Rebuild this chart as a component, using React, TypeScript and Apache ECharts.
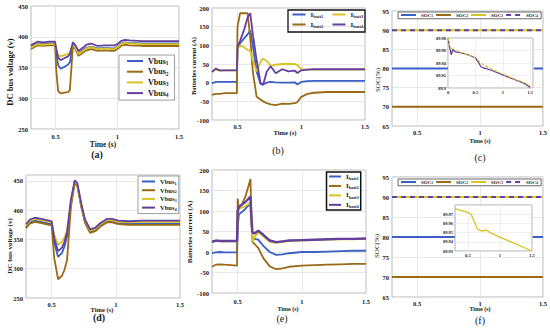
import React, { useEffect, useRef } from 'react';
import * as echarts from 'echarts';

// ---------- data ----------
const X_TICKS = [0.5, 1, 1.5];

// (a) DC bus voltage, case 1
const T_A = [0.3, 0.35, 0.4, 0.45, 0.495, 0.505, 0.52, 0.54, 0.57, 0.6, 0.615, 0.64, 0.66, 0.685, 0.72, 0.75, 0.79, 0.84, 0.9, 0.95, 0.975, 1.0, 1.03, 1.06, 1.1, 1.2, 1.3, 1.4, 1.5];
const VBUS1_A = [383, 389, 388, 389, 389, 372, 354, 348, 351, 355, 358, 388, 383, 373, 378, 382, 384, 381, 382, 381, 381, 384, 389, 391, 390, 389, 389, 389, 389];
const VBUS2_A = [380, 386, 385, 386, 386, 345, 312, 308, 309, 310, 313, 385, 380, 369, 374, 378, 380, 377, 378, 377, 377, 380, 385, 387, 386, 385, 385, 385, 385];
const VBUS3_A = [382, 388, 387, 388, 388, 378, 370, 368, 370, 372, 374, 387, 382, 372, 377, 381, 383, 380, 381, 380, 380, 383, 388, 390, 389, 388, 388, 388, 388];
const VBUS4_A = [386, 392, 391, 392, 392, 380, 366, 362, 365, 368, 372, 391, 386, 377, 382, 387, 389, 385, 386, 386, 386, 388, 393, 395, 394, 393, 393, 393, 393];

// (b) battery currents, case 1
const T_B = [0.3, 0.33, 0.36, 0.4, 0.45, 0.495, 0.5, 0.52, 0.55, 0.58, 0.6, 0.62, 0.65, 0.68, 0.7, 0.73, 0.76, 0.8, 0.85, 0.9, 0.95, 0.97, 1.0, 1.05, 1.1, 1.2, 1.3, 1.4, 1.5];
const IBATT1_B = [-2, 2, 2, 2, 2, 2, 90, 105, 118, 130, 140, 100, 30, -3, -5, 0, 2, 1, 0, 0, 1, -5, 2, 4, 5, 5, 5, 5, 5];
const IBATT2_B = [-33, -30, -30, -28, -28, -28, 150, 186, 186, 186, 120, 30, -38, -45, -50, -55, -58, -60, -56, -57, -55, -52, -38, -30, -27, -25, -25, -25, -25];
const IBATT3_B = [30, 35, 32, 33, 33, 33, 90, 100, 95, 88, 85, 60, 30, 55, 65, 58, 45, 48, 50, 50, 50, 47, 36, 35, 35, 35, 35, 35, 35];
const IBATT4_B = [28, 38, 33, 33, 33, 33, 95, 112, 140, 175, 186, 130, 60, 0, -6, 30, 44, 25, 36, 30, 32, 26, 33, 35, 36, 36, 36, 36, 36];

// (c) SOC, case 1
const T_C = [0.3, 1.5];
const SOC1_C = [80, 80];
const SOC2_C = [70, 70];
const SOC3_C = [90, 90];
const SOC4_C = [90, 90];
// (c) inset
const T_CI = [0, 0.03, 0.06, 0.09, 0.13, 0.2, 0.3, 0.4, 0.5, 0.55, 0.6, 0.65, 0.7, 0.8, 1.0, 1.2, 1.4, 1.5];
const SOC4_CI = [89.98, 89.965, 89.953, 89.962, 89.958, 89.957, 89.955, 89.952, 89.948, 89.942, 89.934, 89.932, 89.931, 89.928, 89.921, 89.914, 89.907, 89.901];
const SOC3_CI = [89.98, 89.968, 89.963, 89.962, 89.96, 89.958, 89.955, 89.952, 89.948, 89.944, 89.94, 89.937, 89.935, 89.93, 89.922, 89.915, 89.908, 89.903];

// (d) DC bus voltage, case 2
const T_D = [0.3, 0.33, 0.37, 0.42, 0.48, 0.5, 0.52, 0.55, 0.58, 0.6, 0.62, 0.65, 0.68, 0.7, 0.73, 0.76, 0.8, 0.84, 0.88, 0.93, 0.97, 1.02, 1.1, 1.2, 1.3, 1.4, 1.5];
const VBUS1_D = [371, 379, 382, 380, 377, 376, 345, 320, 327, 338, 356, 412, 448, 443, 408, 380, 363, 366, 374, 381, 381, 378, 377, 377, 377, 377, 377];
const VBUS2_D = [369, 377, 380, 378, 375, 374, 318, 282, 288, 298, 315, 405, 446, 441, 406, 378, 361, 364, 372, 379, 379, 376, 375, 375, 375, 375, 375];
const VBUS3_D = [374, 382, 385, 383, 380, 379, 358, 341, 346, 353, 366, 415, 449, 444, 410, 382, 365, 368, 376, 383, 383, 380, 379, 380, 380, 380, 380];
const VBUS4_D = [376, 384, 387, 385, 382, 381, 352, 330, 336, 346, 362, 418, 451, 446, 412, 384, 367, 370, 378, 385, 385, 382, 381, 382, 382, 382, 382];

// (e) battery currents, case 2
const T_E = [0.3, 0.33, 0.36, 0.4, 0.45, 0.495, 0.5, 0.51, 0.53, 0.56, 0.6, 0.605, 0.615, 0.63, 0.66, 0.7, 0.75, 0.8, 0.85, 0.9, 1.0, 1.1, 1.2, 1.3, 1.4, 1.5];
const IBATT1_E = [-3, -1, 0, -1, -1, -1, 60, 92, 97, 105, 120, 80, 35, 32, 30, 15, 0, -7, -6, -3, 0, 0, 1, 2, 3, 3];
const IBATT2_E = [-36, -31, -30, -31, -32, -33, 130, 105, 115, 135, 178, 110, 25, 20, 10, -15, -35, -42, -40, -36, -33, -32, -31, -30, -29, -29];
const IBATT3_E = [24, 27, 26, 26, 26, 26, 90, 105, 108, 112, 120, 80, 25, 35, 48, 38, 25, 22, 25, 27, 28, 29, 30, 31, 31, 32];
const IBATT4_E = [25, 28, 27, 27, 27, 27, 100, 110, 115, 122, 135, 95, 48, 45, 52, 42, 28, 24, 26, 28, 29, 30, 31, 32, 32, 33];

// (f) SOC, case 2
const T_F = [0.3, 1.5];
const SOC1_F = [80, 80];
const SOC2_F = [70, 70];
const SOC3_F = [90, 90];
const SOC4_F = [90, 90];
// (f) inset
const T_FI = [0.3, 0.4, 0.5, 0.55, 0.6, 0.65, 0.7, 0.75, 0.78, 0.85, 1.0, 1.2, 1.4, 1.5];
const SOC_FI = [89.976, 89.974, 89.972, 89.97, 89.962, 89.954, 89.952, 89.952, 89.953, 89.95, 89.945, 89.939, 89.933, 89.93];

// ---------- styles ----------
const FONT = "'Liberation Serif', 'Times New Roman', serif";
const BLUE = '#3b5fc4';
const BROWN = '#9a6a16';
const YELLOW = '#d8c424';
const PURPLE = '#62409e';
const TXT = '#1a1a1a';

const pairs = (t: number[], v: number[]) => t.map((x, i) => [x, v[i]]);

function line(name: string, idx: number, t: number[], v: number[], color: string, width = 1.8, extra: any = {}) {
  return {
    type: 'line',
    name,
    xAxisIndex: idx,
    yAxisIndex: idx,
    data: pairs(t, v),
    symbol: 'none',
    showSymbol: false,
    lineStyle: { color, width, ...(extra.lineStyle || {}) },
    itemStyle: { color },
    z: extra.z ?? 2,
    silent: true,
  };
}

function legendFormatter(name: string) {
  const base = name.split('-')[1];
  const m = base.match(/^(Vbus|I|SOC)(.*)$/);
  if (!m) return base;
  return `{m|${m[1]}}{s|${m[2]}}`;
}

function rich(mSize: number, sSize: number, lh: number) {
  return {
    m: { fontSize: mSize, fontWeight: 'bold', fontFamily: FONT, color: TXT, lineHeight: lh },
    s: { fontSize: sSize, fontWeight: 'bold', fontFamily: FONT, color: TXT, lineHeight: sSize, verticalAlign: 'bottom' },
  };
}

function mainX(idx: number, margin: number) {
  return {
    type: 'value', gridIndex: idx, min: 0.3, max: 1.5,
    axisLine: { show: false },
    axisTick: { show: false, customValues: X_TICKS },
    axisLabel: { customValues: X_TICKS, fontSize: 6.5, fontWeight: 'bold', fontFamily: FONT, color: TXT, margin },
    splitLine: { show: true, lineStyle: { color: '#e2e2e2', width: 0.8 } },
  };
}

function mainY(idx: number, min: number, max: number, interval: number, extra: any = {}) {
  return {
    type: 'value', gridIndex: idx, min, max, interval,
    axisLine: { show: false },
    axisTick: { show: false },
    axisLabel: { fontSize: 6.5, fontWeight: 'bold', fontFamily: FONT, color: TXT, margin: 3, ...(extra.axisLabel || {}) },
    splitLine: { show: true, lineStyle: { color: '#e2e2e2', width: 0.8 } },
  };
}

function txt(text: string, x: number, y: number, size: number, bold: boolean, rotate = false) {
  return {
    type: 'text', x, y, rotation: rotate ? Math.PI / 2 : 0, silent: true,
    style: {
      text, fontSize: size, fontWeight: bold ? 'bold' : 'normal', fontFamily: FONT, fill: TXT,
      align: 'center', verticalAlign: 'middle', textAlign: 'center', textVerticalAlign: 'middle',
    },
  };
}

export default function App() {
  const ref = useRef<HTMLDivElement>(null);
  useEffect(() => {
    if (!ref.current) return;
    const chart = echarts.init(ref.current, null, { renderer: 'svg' });

    const gridBase = { show: true, borderColor: '#a8a8a8', borderWidth: 0.8, backgroundColor: '#fff', containLabel: false };
    const grids = [
      { ...gridBase, left: 31, top: 6, width: 148, height: 123 },
      { ...gridBase, left: 212, top: 8, width: 153, height: 112 },
      { ...gridBase, left: 392, top: 11, width: 153, height: 115 },
      { ...gridBase, left: 26, top: 175, width: 154, height: 123 },
      { ...gridBase, left: 212, top: 170, width: 154, height: 123 },
      { ...gridBase, left: 392, top: 177, width: 152, height: 120 },
      { ...gridBase, left: 448, top: 38, width: 85, height: 50, z: 3, borderColor: '#999' },
      { ...gridBase, left: 455, top: 205, width: 77, height: 46, z: 3, borderColor: '#999' },
    ];

    const insetLabel = { fontSize: 4.5, fontWeight: 'bold', fontFamily: FONT, color: TXT, margin: 2 };
    const xAxes: any[] = [
      mainX(0, 4), mainX(1, 3), mainX(2, 3), mainX(3, 3), mainX(4, 5), mainX(5, 3),
      {
        type: 'value', gridIndex: 6, min: 0, max: 1.55, interval: 0.5, z: 4,
        axisLine: { show: false }, axisTick: { show: false },
        axisLabel: { ...insetLabel, showMaxLabel: false },
        splitLine: { show: true, lineStyle: { color: '#e6e6e6', width: 0.6 } },
      },
      {
        type: 'value', gridIndex: 7, min: 0.3, max: 1.5, z: 4,
        axisLine: { show: false }, axisTick: { show: false, customValues: X_TICKS },
        axisLabel: { ...insetLabel, customValues: X_TICKS },
        splitLine: { show: true, lineStyle: { color: '#e6e6e6', width: 0.6 } },
      },
    ];
    const yAxes: any[] = [
      mainY(0, 250, 450, 50),
      mainY(1, -100, 200, 50),
      mainY(2, 65, 95, 5),
      mainY(3, 250, 460, 50, { axisLabel: { showMaxLabel: false } }),
      mainY(4, -100, 200, 50),
      mainY(5, 65, 95, 5),
      {
        type: 'value', gridIndex: 6, min: 89.9, max: 89.98, interval: 0.02, z: 4,
        axisLine: { show: false }, axisTick: { show: false },
        axisLabel: { ...insetLabel },
        splitLine: { show: true, lineStyle: { color: '#e6e6e6', width: 0.6 } },
      },
      {
        type: 'value', gridIndex: 7, min: 89.93, max: 89.98, interval: 0.01, z: 4,
        axisLine: { show: false }, axisTick: { show: false },
        axisLabel: { ...insetLabel, showMaxLabel: false },
        splitLine: { show: true, lineStyle: { color: '#e6e6e6', width: 0.6 } },
      },
    ];

    const dashed = { lineStyle: { type: [5, 4] } };
    const series: any[] = [
      line('a-Vbus1', 0, T_A, VBUS1_A, BLUE),
      line('a-Vbus2', 0, T_A, VBUS2_A, BROWN),
      line('a-Vbus3', 0, T_A, VBUS3_A, YELLOW),
      line('a-Vbus4', 0, T_A, VBUS4_A, PURPLE),

      line('b-Ibatt1', 1, T_B, IBATT1_B, BLUE),
      line('b-Ibatt2', 1, T_B, IBATT2_B, BROWN),
      line('b-Ibatt3', 1, T_B, IBATT3_B, YELLOW),
      line('b-Ibatt4', 1, T_B, IBATT4_B, PURPLE),

      line('c-SOC1', 2, T_C, SOC1_C, BLUE, 2),
      line('c-SOC2', 2, T_C, SOC2_C, BROWN, 2),
      line('c-SOC3', 2, T_C, SOC3_C, YELLOW, 2),
      line('c-SOC4', 2, T_C, SOC4_C, PURPLE, 2, dashed),

      line('d-Vbus1', 3, T_D, VBUS1_D, BLUE),
      line('d-Vbus2', 3, T_D, VBUS2_D, BROWN),
      line('d-Vbus3', 3, T_D, VBUS3_D, YELLOW),
      line('d-Vbus4', 3, T_D, VBUS4_D, PURPLE),

      line('e-Ibatt1', 4, T_E, IBATT1_E, BLUE),
      line('e-Ibatt2', 4, T_E, IBATT2_E, BROWN),
      line('e-Ibatt3', 4, T_E, IBATT3_E, YELLOW),
      line('e-Ibatt4', 4, T_E, IBATT4_E, PURPLE, 2.4),

      line('f-SOC1', 5, T_F, SOC1_F, BLUE, 2),
      line('f-SOC2', 5, T_F, SOC2_F, BROWN, 2),
      line('f-SOC3', 5, T_F, SOC3_F, YELLOW, 2),
      line('f-SOC4', 5, T_F, SOC4_F, PURPLE, 2, dashed),

      line('ci-SOC4', 6, T_CI, SOC4_CI, PURPLE, 1.3, { z: 5 }),
      line('ci-SOC3', 6, T_CI, SOC3_CI, YELLOW, 1.3, { z: 5, lineStyle: { type: [3, 2] } }),
      line('fi-SOC', 7, T_FI, SOC_FI, YELLOW, 1.3, { z: 5 }),
    ];

    const legBase = {
      show: true, selectedMode: false, formatter: legendFormatter, backgroundColor: '#fff',
      itemStyle: { opacity: 0, borderWidth: 0 },
    };
    const legends: any[] = [
      {
        ...legBase, orient: 'vertical', left: 119, top: 55, padding: [2, 6, 2, 7], itemGap: 1.7,
        itemWidth: 16, itemHeight: 6, borderColor: '#888', borderWidth: 0.8,
        data: ['a-Vbus1', 'a-Vbus2', 'a-Vbus3', 'a-Vbus4'],
        textStyle: { rich: rich(8, 5.5, 10) },
      },
      {
        ...legBase, orient: 'vertical', left: 288, top: 10, padding: [1, 2, 1, 3.5], itemGap: 2,
        itemWidth: 13, itemHeight: 6, borderWidth: 0, backgroundColor: 'transparent',
        data: ['b-Ibatt1', 'b-Ibatt2'],
        textStyle: { rich: rich(7, 4.5, 9) },
      },
      {
        ...legBase, orient: 'vertical', left: 328, top: 10, padding: [1, 2, 1, 3.5], itemGap: 2,
        itemWidth: 13, itemHeight: 6, borderWidth: 0, backgroundColor: 'transparent',
        data: ['b-Ibatt3', 'b-Ibatt4'],
        textStyle: { rich: rich(7, 4.5, 9) },
      },
      {
        ...legBase, orient: 'horizontal', left: 398, top: 12, padding: [0.5, 3, 0.5, 2], itemGap: 2,
        itemWidth: 15, itemHeight: 5, borderColor: '#444', borderWidth: 0.8, width: 146,
        data: ['c-SOC1', 'c-SOC2', 'c-SOC3', 'c-SOC4'],
        textStyle: { rich: rich(5, 3.5, 6.5) },
      },
      {
        ...legBase, orient: 'vertical', left: 138, top: 176, padding: [2, 2, 2, 3], itemGap: 1.2,
        itemWidth: 13, itemHeight: 5, borderColor: '#888', borderWidth: 0.8,
        data: ['d-Vbus1', 'd-Vbus2', 'd-Vbus3', 'd-Vbus4'],
        textStyle: { rich: rich(6.5, 4.5, 8) },
      },
      {
        ...legBase, orient: 'vertical', left: 326.5, top: 172, padding: [1, 2, 1, 1.5], itemGap: 1.7,
        itemWidth: 12, itemHeight: 5, borderColor: '#111', borderWidth: 1.5,
        data: ['e-Ibatt1', 'e-Ibatt2', 'e-Ibatt3', 'e-Ibatt4'],
        textStyle: { rich: rich(7, 4.5, 8.5) },
      },
      {
        ...legBase, orient: 'horizontal', left: 398, top: 179, padding: [0.5, 3, 0.5, 2], itemGap: 2,
        itemWidth: 15, itemHeight: 5, borderColor: '#444', borderWidth: 0.8, width: 146,
        data: ['f-SOC1', 'f-SOC2', 'f-SOC3', 'f-SOC4'],
        textStyle: { rich: rich(5, 3.5, 6.5) },
      },
    ];

    const graphics: any[] = [
      { type: 'rect', shape: { x: 288, y: 10, width: 77, height: 22 }, style: { fill: 'none', stroke: '#111', lineWidth: 1.3 }, z: 10, silent: true },
      txt('DC bus voltage (v)', 10, 72, 8.5, true, true),
      txt('Batteries current (A)', 193, 66, 6.5, true, true),
      txt('SOC(%)', 378, 80, 7, false, true),
      txt('DC bus voltage (v)', 10, 246, 7, true, true),
      txt('Batteries current (A)', 190, 232, 7, true, true),
      txt('SOC(%)', 377, 246, 7, false, true),
      txt('Time (s)', 103, 144, 7.5, true),
      txt('Time (s)', 285, 132.5, 6.5, true),
      txt('Time (s)', 480, 141, 6, true),
      txt('Time (s)', 102, 309, 6.5, true),
      txt('Time (s)', 288, 308.5, 6, true),
      txt('Time (s)', 480, 309, 6, true),
      txt('(a)', 97, 154, 10, true),
      txt('(b)', 278, 150, 10, false),
      txt('(c)', 480, 157, 10, false),
      txt('(d)', 99, 317, 10, true),
      txt('(e)', 282, 318, 10, false),
      txt('(f)', 480, 320, 10, false),
    ];

    chart.setOption({
      animation: false,
      backgroundColor: '#fff',
      textStyle: { fontFamily: FONT },
      grid: grids,
      xAxis: xAxes,
      yAxis: yAxes,
      legend: legends,
      series,
      graphic: graphics,
    });
    return () => chart.dispose();
  }, []);

  return <div ref={ref} style={{ position: 'absolute', left: 0, top: 0, width: 550, height: 332 }} />;
}
